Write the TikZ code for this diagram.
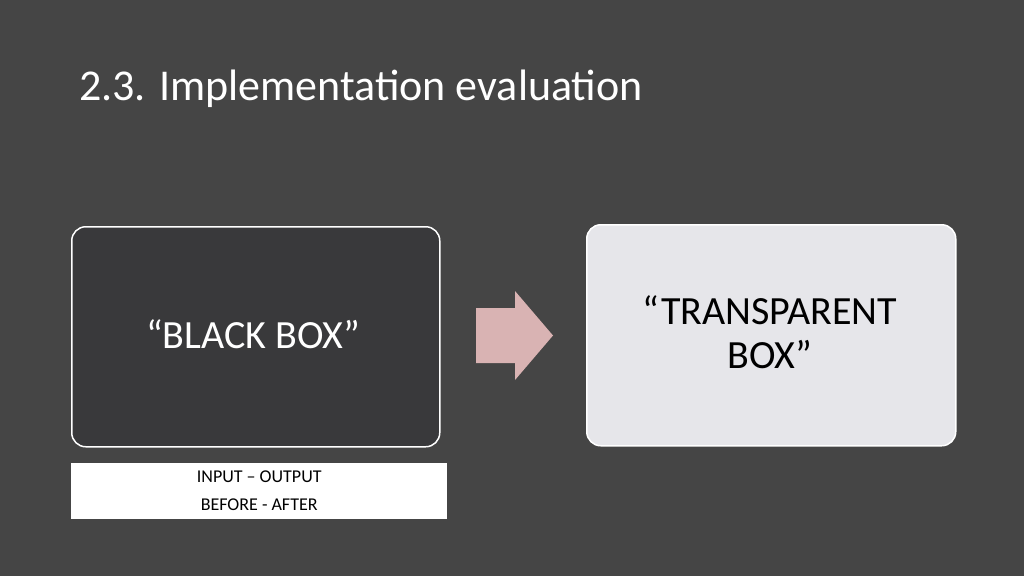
\documentclass[tikz,border=0pt]{standalone}
\usepackage{fontspec}
\setmainfont{Carlito}
\begin{document}
\begin{tikzpicture}[x=1pt,y=-1pt,
  bx/.style={draw=white,line width=1.5pt,rounded corners=14pt,anchor=north west,inner sep=0pt},
  tx/.style={font=\fontsize{40}{44}\selectfont,align=center}]
\definecolor{bg}{HTML}{454545}
\definecolor{dk}{HTML}{39393B}
\definecolor{lt}{HTML}{E6E6EA}
\definecolor{ar}{HTML}{D9B3B3}
\fill[bg] (0,0) rectangle (1024,576);
\useasboundingbox (0,0) rectangle (1024,576);
\node[anchor=base west,text=white,font=\fontsize{44}{48}\selectfont,inner sep=0pt] (title) at (79,100) {2.3. Implementation evaluation};
\node[bx,fill=dk,minimum width=368pt,minimum height=220pt] (bb) at (71,226) {};
\node[tx,text=white] (bbt) at (253,334) {“BLACK BOX”};
\node[bx,fill=lt,minimum width=369pt,minimum height=221pt] (tb) at (586,224) {};
\node[tx,text=black] (tbt) at (770,332) {“TRANSPARENT\\BOX”};
\fill[ar] (476,308) -- (515,308) -- (515,291) -- (553,335.5) -- (515,380) -- (515,363) -- (476,363) -- cycle;
\node[fill=white,anchor=north west,minimum width=376pt,minimum height=56pt,inner sep=0pt] (lb) at (71,463) {};
\node[font=\fontsize{18}{28}\selectfont,align=center,text=black] (lbt) at (lb.center) {INPUT – OUTPUT\\BEFORE - AFTER};
\end{tikzpicture}
\end{document}
